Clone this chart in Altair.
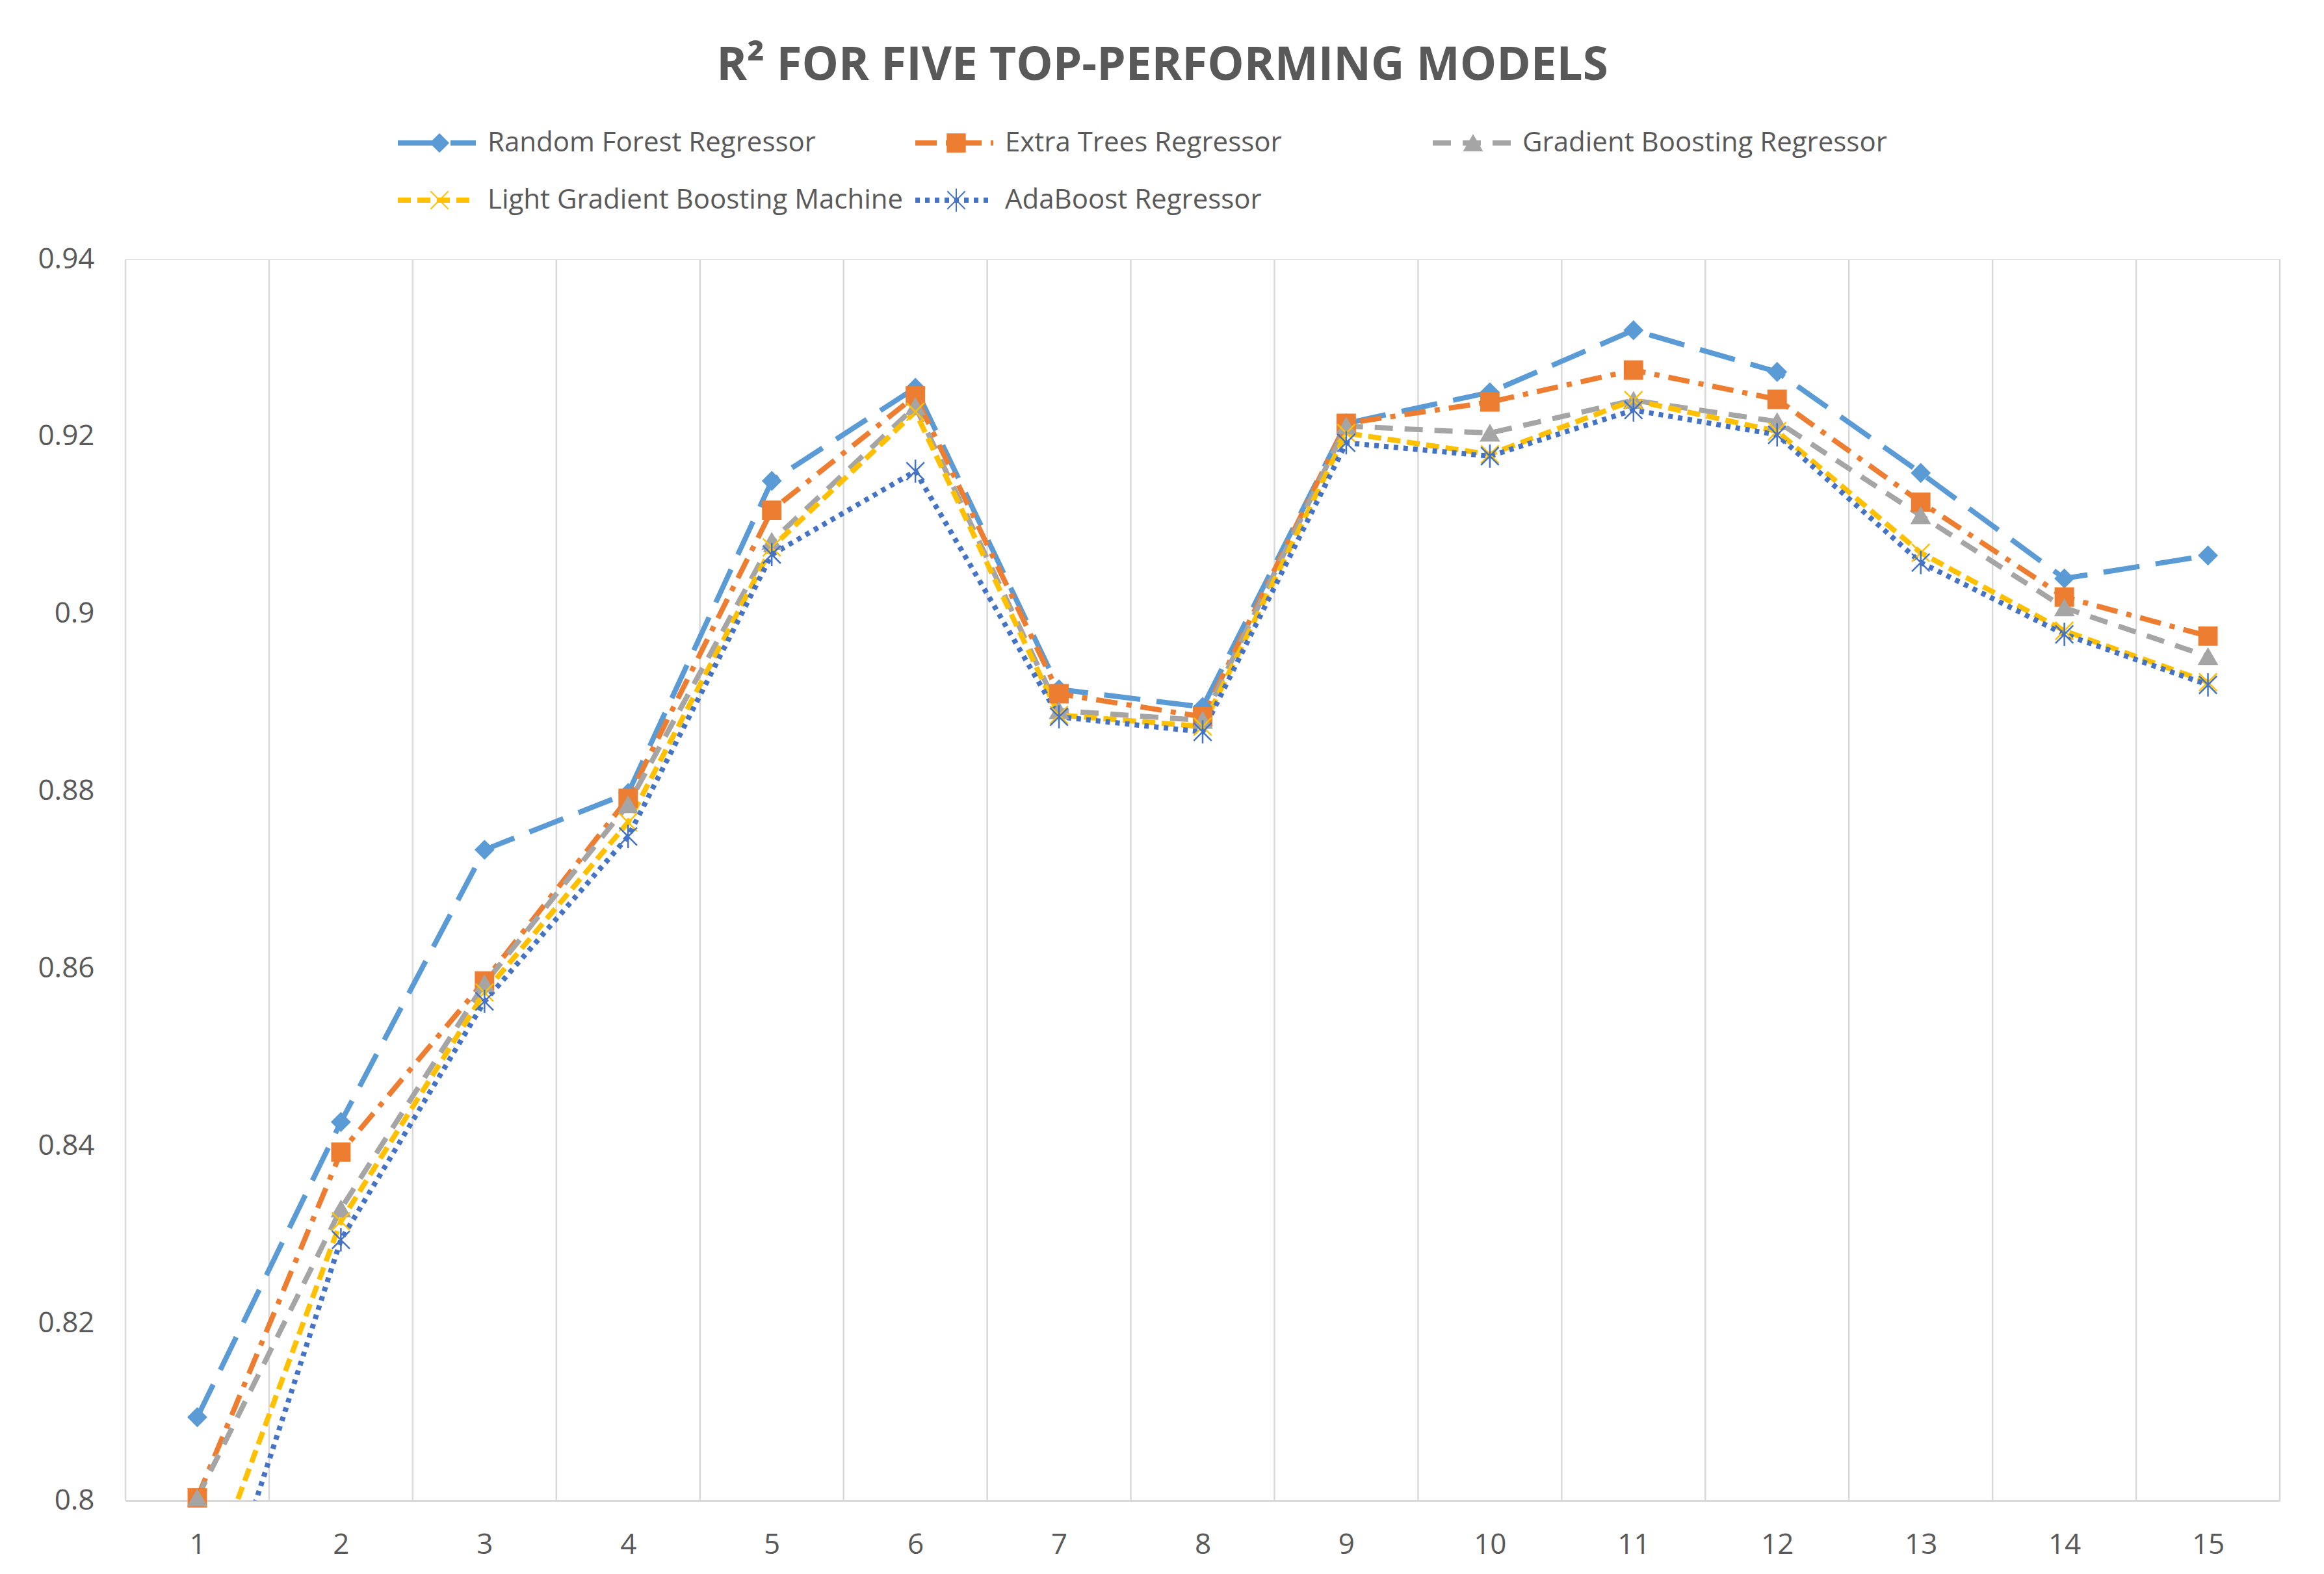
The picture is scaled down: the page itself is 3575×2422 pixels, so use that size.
import altair as alt
import pandas as pd

FONT = "Open Sans"

steps = list(range(1, 16))
models = [
    "Random Forest Regressor",
    "Extra Trees Regressor",
    "Gradient Boosting Regressor",
    "Light Gradient Boosting Machine",
    "AdaBoost Regressor",
]
rf = [0.8094, 0.8427, 0.8734, 0.8798, 0.9150, 0.9255, 0.8915, 0.8895, 0.9215, 0.9250, 0.9320, 0.9273, 0.9159, 0.9040, 0.9066]
et = [0.8003, 0.8393, 0.8586, 0.8792, 0.9117, 0.9246, 0.8910, 0.8884, 0.9215, 0.9239, 0.9275, 0.9242, 0.9126, 0.9019, 0.8975]
gb = [0.8003, 0.8329, 0.8583, 0.8785, 0.9082, 0.9234, 0.8891, 0.8880, 0.9212, 0.9204, 0.9241, 0.9217, 0.9111, 0.9007, 0.8952]
lgbm = [0.7878, 0.8315, 0.8573, 0.8765, 0.9075, 0.9228, 0.8886, 0.8873, 0.9204, 0.9180, 0.9241, 0.9206, 0.9069, 0.8981, 0.8923]
ada = [0.7797, 0.8294, 0.8563, 0.8749, 0.9067, 0.9161, 0.8884, 0.8867, 0.9193, 0.9178, 0.9230, 0.9202, 0.9058, 0.8977, 0.8920]
series = [rf, et, gb, lgbm, ada]

y_ticks = [0.80, 0.82, 0.84, 0.86, 0.88, 0.90, 0.92, 0.94]

colors = ["#5B9BD5", "#ED7D31", "#A5A5A5", "#FFC000", "#4472C4"]
dashes = [[56, 25], [33, 14, 8, 14], [28, 18], [20, 10], [7, 8]]
shapes = [
    "diamond",
    "square",
    "triangle-up",
    "M-1,-1L1,1M-1,1L1,-1",
    "M-1,-1L1,1M-1,1L1,-1M0,-1.3L0,1.3",
]

rows = []
for m, vals in zip(models, series):
    for s, v in zip(steps, vals):
        rows.append({"step": s, "r2": v, "model": m})
df = pd.DataFrame(rows)

grid_df = pd.DataFrame({"g": [s - 0.5 for s in steps] + [steps[-1] + 0.5]})

TXT = "#595959"
GRID = "#D9D9D9"

xscale = alt.Scale(domain=[steps[0] - 0.5, steps[-1] + 0.5], nice=False, zero=False)
yscale = alt.Scale(domain=[y_ticks[0], y_ticks[-1]], nice=False, zero=False)

xaxis = alt.Axis(values=steps, format="d", title=None, grid=False, ticks=False,
                 domain=True, domainColor=GRID, domainWidth=3,
                 labelFont=FONT, labelFontSize=44, labelColor=TXT, labelPadding=46)
yaxis = alt.Axis(values=y_ticks, format=".2~f", title=None, grid=False, ticks=False,
                 domain=False, labelFont=FONT, labelFontSize=44, labelColor=TXT,
                 labelPadding=48)

LY = -201
common_leg = dict(title=None, orient="none", legendY=LY, columns=3,
                  direction="horizontal", labelFont=FONT, labelFontSize=42,
                  labelColor=TXT, labelLimit=3000, gridAlign="all",
                  rowPadding=44, clipHeight=44)

# line-style legend (with the labels)
leg_lines = alt.Legend(symbolType="stroke", symbolSize=14400, symbolStrokeWidth=8,
                       labelOffset=14, legendX=415, columnPadding=14, **common_leg)
# marker legend drawn over the middle of each legend line (no labels of its own)
leg_points = alt.Legend(symbolSize=750, symbolStrokeWidth=2, labelExpr="''",
                        symbolOffset=0, labelOffset=0, legendX=462,
                        columnPadding=753, **common_leg)

grid = alt.Chart(grid_df).mark_rule(color=GRID, strokeWidth=2.5).encode(
    x=alt.X("g:Q", scale=xscale, axis=xaxis)
)

base = alt.Chart(df)

lines = base.mark_line(clip=True, strokeWidth=8, strokeCap="butt", strokeJoin="round").encode(
    x=alt.X("step:Q", scale=xscale, axis=xaxis),
    y=alt.Y("r2:Q", scale=yscale, axis=yaxis),
    stroke=alt.Stroke("model:N", scale=alt.Scale(domain=models, range=colors), legend=leg_lines),
    strokeDash=alt.StrokeDash("model:N", scale=alt.Scale(domain=models, range=dashes), legend=leg_lines),
    order=alt.Order("step:Q"),
)

points = base.transform_filter("datum.r2 >= 0.8").mark_point(
    filled=True, size=750, strokeWidth=2.5, opacity=1
).encode(
    x=alt.X("step:Q", scale=xscale, axis=xaxis),
    y=alt.Y("r2:Q", scale=yscale, axis=yaxis),
    fill=alt.Fill("model:N", scale=alt.Scale(domain=models, range=colors), legend=leg_points),
    stroke=alt.Stroke("model:N", scale=alt.Scale(domain=models, range=colors), legend=leg_points),
    shape=alt.Shape("model:N", scale=alt.Scale(domain=models, range=shapes), legend=leg_points),
)

chart = alt.layer(grid, lines, points).resolve_scale(
    stroke="independent", fill="independent", shape="independent", strokeDash="independent"
).resolve_legend(
    stroke="independent", fill="independent", shape="independent", strokeDash="independent"
).properties(
    width=3314,
    height=1910,
    autosize=alt.AutoSizeParams(type="none"),
    padding={"left": 185, "top": 391, "right": 55, "bottom": 100},
    title=alt.TitleParams(
        "R² FOR FIVE TOP-PERFORMING MODELS",
        font=FONT, fontSize=71, fontWeight="bold", color=TXT, anchor="middle",
        offset=60, dx=-62,
    ),
).configure_view(stroke=None).configure(background="white")

chart.save("out.html", embed_options={"renderer": "svg", "actions": False})
